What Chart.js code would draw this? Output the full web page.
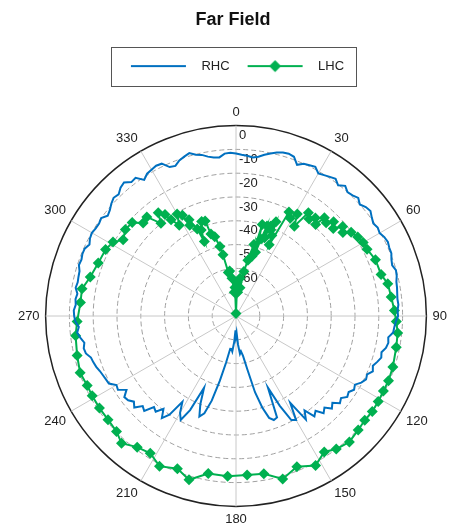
<!DOCTYPE html>
<html>
<head>
<meta charset="utf-8">
<title>Far Field</title>
<script src="https://cdn.jsdelivr.net/npm/chart.js@4.4.1/dist/chart.umd.min.js"></script>
<style>
  html, body { margin: 0; padding: 0; background: #fff; }
  #wrap { width: 454px; height: 529px; position: relative; }
</style>
</head>
<body>
<div id="wrap"><canvas id="chart"></canvas></div>
<script>
// angle axis (degrees, clockwise from top)
const angleLabels = Array.from({ length: 360 }, (_, i) => i);
const angleTickStep = 30;

// radial axis (dB)
const radialMin = -80;
const radialMax = 0;
const radialTickLabels = [0, -10, -20, -30, -40, -50, -60];

// RHC, one value every 2 degrees starting at 0
const rhcStep = 2;
const rhcValues = [
  -11.7, -12.2, -12.5, -13.0, -12.4, -11.2, -10.2, -9.2, -8.5, -8.3,
  -8.8, -11.5, -10.0, -9.5, -9.0, -10.8, -10.2, -9.5, -8.8, -10.3,
  -8.6, -10.0, -9.5, -8.6, -10.0, -8.8, -8.3, -9.5, -10.4, -9.8,
  -10.3, -9.4, -9.0, -9.5, -9.6, -10.5, -11.0, -10.1, -10.4, -11.1,
  -11.3, -11.6, -11.8, -11.6, -12.1, -11.9, -12.8, -13.3, -13.6, -15.4,
  -15.0, -15.6, -17.0, -16.5, -17.6, -18.8, -18.0, -19.7, -19.2, -20.4,
  -22.3, -21.5, -22.9, -22.2, -24.0, -23.0, -25.5, -24.0, -26.5, -25.0,
  -28.0, -26.5, -31.0, -27.5, -37.0, -29.5, -30.5, -38.0, -47.0, -34.0,
  -33.5, -35.0, -40.0, -47.0, -57.0, -63.0, -65.0, -64.0, -68.0, -73.0,
  -71.5, -74.0, -69.0, -65.0, -66.0, -66.0, -60.0, -52.0, -43.0, -37.0,
  -35.0, -40.0, -47.0, -36.0, -30.5, -33.0, -37.5, -30.0, -27.0, -30.5,
  -27.5, -28.5, -24.5, -25.5, -22.5, -24.0, -22.5, -22.0, -24.5, -21.5,
  -22.0, -19.5, -19.2, -18.8, -18.3, -17.5, -17.0, -16.6, -15.0, -14.6,
  -15.3, -14.0, -12.9, -13.8, -12.5, -12.0, -11.8, -12.5, -12.2, -12.7,
  -11.6, -12.0, -11.8, -11.6, -10.6, -10.9, -10.4, -10.4, -11.5, -10.5,
  -10.1, -10.5, -10.6, -10.0, -11.6, -10.8, -9.5, -8.5, -9.0, -7.5,
  -6.8, -8.6, -8.2, -11.0, -9.5, -9.0, -8.5, -8.8, -11.5, -12.0,
  -10.4, -9.6, -8.8, -10.2, -10.8, -12.0, -12.7, -13.0, -11.6, -11.4
];

// LHC, marker positions
const lhcAngles = [
  0, 2, 4, 6, 8, 10, 12, 14, 15, 16, 17, 18, 19, 20, 21, 22, 23, 24, 25, 27,
  29, 31, 33, 35, 37, 39, 41, 42, 44, 46, 48, 50, 52, 54, 57, 60, 63, 68, 74, 78,
  83, 88, 92, 96, 101, 108, 113, 117, 121, 125, 129, 133, 138, 143, 147, 152, 158, 164, 170, 176,
  183, 190, 196, 201, 207, 212, 217, 222, 226, 231, 236, 241, 245, 250, 256, 263, 268, 275, 280, 285,
  291, 297, 301, 304, 308, 312, 315, 318, 321, 323, 325, 326, 328, 330, 332, 333, 334, 336, 337, 338,
  340, 342, 343, 345, 347, 348, 350, 352, 354, 356, 358
];
const lhcValues = [
  -79, -66, -70, -64, -68, -61, -56, -49, -54, -40, -52, -46, -40, -45, -39.6, -41, -37, -43, -47, -31,
  -33, -30, -35, -27, -29, -27, -29, -24.5, -25.5, -23, -25, -21.5, -23, -20.2, -19, -18.3, -18.2, -16.8, -16.6, -14.8,
  -14.3, -13.4, -12.6, -11.7, -11.4, -10.7, -10.4, -10.5, -10.3, -10.1, -10.4, -9.8, -8.8, -10, -11.9, -8.8, -11.7, -8.8, -12.7, -13,
  -12.6, -12.8, -8.4, -11.3, -9.2, -12, -11, -8.1, -10.2, -10.8, -10.8, -10.9, -11, -10.3, -11.2, -12.1, -13.2, -14.4, -14.3, -16.6,
  -18, -18.5, -19.7, -22.8, -21, -21.3, -24.8, -24, -29.9, -25.7, -28, -31.2, -35, -30.5, -32, -37.2, -35, -40, -46, -41,
  -37.8, -38, -44, -45.5, -50, -53.7, -61.4, -60.9, -64, -70, -68
];

const rhcColor = '#0070C0';
const lhcColor = '#00B050';
const fontFamily = '"Liberation Sans", Arial, Helvetica, sans-serif';

const rhcData = angleLabels.map(() => null);
rhcValues.forEach((v, i) => { rhcData[i * rhcStep] = v; });
const lhcData = angleLabels.map(() => null);
lhcAngles.forEach((a, i) => { lhcData[a] = lhcValues[i]; });

function legendIcon(color, diamond) {
  const c = document.createElement('canvas');
  c.width = 73; c.height = 14;
  const g = c.getContext('2d');
  g.strokeStyle = color;
  g.lineWidth = 2;
  g.beginPath(); g.moveTo(9, 7); g.lineTo(64, 7); g.stroke();
  if (diamond) {
    g.fillStyle = color;
    g.beginPath();
    g.moveTo(36.5, 1); g.lineTo(42.5, 7); g.lineTo(36.5, 13); g.lineTo(30.5, 7);
    g.closePath(); g.fill();
  }
  return c;
}
const icons = [legendIcon(rhcColor, false), legendIcon(lhcColor, true)];

const legendMargin = {
  id: 'legendMargin',
  beforeInit(chart) {
    const fit = chart.legend.fit;
    chart.legend.fit = function () {
      fit.bind(chart.legend)();
      this.height += 22;
    };
  }
};

const legendFrame = {
  id: 'legendFrame',
  afterDraw(chart) {
    const hb = chart.legend.legendHitBoxes;
    if (!hb || !hb.length) return;
    const first = hb[0], last = hb[hb.length - 1];
    const x0 = Math.round(first.left - 11) + 0.5;
    const x1 = Math.round(last.left + last.width + 12) + 0.5;
    const yc = first.top + first.height / 2;
    const y0 = Math.round(yc - 19) + 0.5;
    const y1 = Math.round(yc + 20) + 0.5;
    const ctx = chart.ctx;
    ctx.save();
    ctx.strokeStyle = '#555';
    ctx.lineWidth = 1;
    ctx.strokeRect(x0, y0, x1 - x0, y1 - y0);
    ctx.restore();
  }
};

const radialLabels = {
  id: 'radialLabels',
  beforeDatasetsDraw(chart) {
    const r = chart.scales.r;
    const ctx = chart.ctx;
    ctx.save();
    ctx.font = '13px ' + fontFamily;
    ctx.fillStyle = '#222';
    ctx.textAlign = 'left';
    ctx.textBaseline = 'middle';
    radialTickLabels.forEach(v => {
      const d = r.getDistanceFromCenterForValue(v);
      ctx.fillText(String(v), r.xCenter + 3, r.yCenter - d + 10);
    });
    ctx.restore();
  }
};

new Chart(document.getElementById('chart'), {
  type: 'radar',
  data: {
    labels: angleLabels,
    datasets: [
      {
        label: 'RHC',
        data: rhcData,
        borderColor: rhcColor,
        backgroundColor: rhcColor,
        borderWidth: 2,
        pointRadius: 0,
        fill: false,
        spanGaps: true,
        tension: 0
      },
      {
        label: 'LHC',
        data: lhcData,
        borderColor: lhcColor,
        backgroundColor: lhcColor,
        borderWidth: 2,
        pointStyle: 'rectRot',
        pointRadius: 5.5,
        pointBorderWidth: 0,
        pointBackgroundColor: lhcColor,
        fill: false,
        spanGaps: true,
        tension: 0
      }
    ]
  },
  options: {
    responsive: true,
    maintainAspectRatio: false,
    animation: false,
    events: [],
    layout: { padding: { left: 12, right: 0, top: 0, bottom: 0 } },
    plugins: {
      title: {
        display: true,
        text: 'Far Field',
        color: '#111',
        font: { family: fontFamily, size: 18, weight: 'bold' },
        padding: { top: 9, bottom: 20 }
      },
      legend: {
        display: true,
        labels: {
          usePointStyle: true,
          pointStyleWidth: 73,
          padding: 9,
          color: '#222',
          font: { family: fontFamily, size: 13 },
          generateLabels: (chart) => chart.data.datasets.map((ds, i) => ({
            text: ds.label,
            pointStyle: icons[i],
            fillStyle: ds.borderColor,
            strokeStyle: ds.borderColor,
            lineWidth: 0,
            hidden: false,
            datasetIndex: i,
            fontColor: '#222'
          }))
        }
      },
      tooltip: { enabled: false }
    },
    scales: {
      r: {
        min: radialMin,
        max: radialMax,
        startAngle: 0,
        ticks: { stepSize: 10, display: false },
        grid: {
          circular: true,
          color: (ctx) => ctx.tick.value === radialMax ? '#222' : (ctx.tick.value === radialMin ? 'rgba(0,0,0,0)' : '#a0a0a0'),
          lineWidth: (ctx) => ctx.tick.value === radialMax ? 1.5 : 1
        },
        border: {
          dash: (ctx) => ctx.tick.value === radialMax ? [] : [5, 3]
        },
        angleLines: {
          display: true,
          color: '#c8c8c8',
          lineWidth: (ctx) => ctx.index % angleTickStep === 0 ? 1 : 0
        },
        pointLabels: {
          display: true,
          padding: 6,
          color: '#222',
          font: { family: fontFamily, size: 13, lineHeight: '15px' },
          callback: (label, index) => index % angleTickStep === 0 ? String(label) : ''
        }
      }
    }
  },
  plugins: [legendMargin, legendFrame, radialLabels]
});
</script>
</body>
</html>
